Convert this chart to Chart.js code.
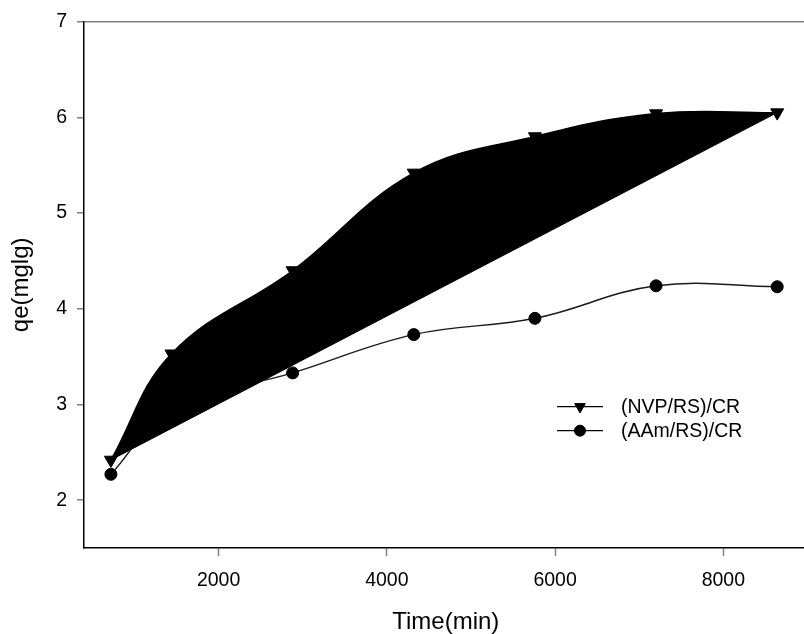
<!DOCTYPE html>
<html>
<head>
<meta charset="utf-8">
<script src="https://cdn.jsdelivr.net/npm/chart.js@4.4.1/dist/chart.umd.min.js"></script>
<style>
  html, body { margin: 0; padding: 0; overflow: hidden; background: #fff; }
  #wrap { position: relative; width: 816px; height: 634px; }
</style>
</head>
<body>
<div id="wrap"><canvas id="c"></canvas></div>
<script>
// Adsorption capacity over contact time for the two hydrogels
const timeMin = [720, 1440, 2880, 4320, 5760, 7200, 8640];
const nvpQe   = [2.42, 3.53, 4.40, 5.42, 5.80, 6.04, 6.05];
const aamQe   = [2.27, 2.95, 3.33, 3.73, 3.90, 4.24, 4.23];
const xTickValues = [2000, 4000, 6000, 8000];
const yTickValues = [2, 3, 4, 5, 6, 7];
const seriesNames = ['(NVP/RS)/CR', '(AAm/RS)/CR'];
const xTitle = 'Time(min)';
const yTitle = 'qe(mglg)';

const FONT = '"Liberation Sans", Arial, sans-serif';

const toPoints = (xs, ys) => xs.map((x, i) => ({ x: x, y: ys[i] }));
const nvpPoints = toPoints(timeMin, nvpQe);
const aamPoints = toPoints(timeMin, aamQe);
// straight chord between the first and last NVP readings; the NVP series is filled down to it
const chordPoints = [nvpPoints[0], nvpPoints[nvpPoints.length - 1]];

// legend drawn inside the plot area, line sample with marker
const insideLegend = {
  id: 'insideLegend',
  afterDraw(chart) {
    const { ctx, chartArea } = chart;
    const items = [
      { text: seriesNames[0], style: 'triangle', rotation: 180, radius: 6.2, dy: 385 },
      { text: seriesNames[1], style: 'circle', rotation: 0, radius: 5.5, dy: 409 }
    ];
    ctx.save();
    items.forEach(it => {
      const y = chartArea.top + it.dy;
      const x1 = chartArea.left + 473, x2 = chartArea.left + 519;
      ctx.strokeStyle = '#000';
      ctx.lineWidth = 1.3;
      ctx.beginPath();
      ctx.moveTo(x1, y);
      ctx.lineTo(x2, y);
      ctx.stroke();
      ctx.fillStyle = '#000';
      ctx.lineWidth = 1;
      Chart.helpers.drawPoint(ctx, { pointStyle: it.style, rotation: it.rotation, radius: it.radius, borderWidth: 1 }, (x1 + x2) / 2, y);
      ctx.font = '19.5px ' + FONT;
      ctx.textBaseline = 'middle';
      ctx.textAlign = 'left';
      ctx.fillStyle = '#000';
      ctx.fillText(it.text, chartArea.left + 537, y + 1);
    });
    ctx.restore();
  }
};

new Chart(document.getElementById('c'), {
  type: 'line',
  data: {
    datasets: [
      {
        label: seriesNames[0],
        data: nvpPoints,
        borderColor: '#000',
        borderWidth: 1.5,
        backgroundColor: '#000',
        fill: 2,
        tension: 0.4,
        pointStyle: 'triangle',
        rotation: 180,
        pointRadius: 7.5,
        pointBackgroundColor: '#000',
        pointBorderColor: '#000',
        pointBorderWidth: 1,
        order: 0
      },
      {
        label: seriesNames[1],
        data: aamPoints,
        borderColor: '#1a1a1a',
        borderWidth: 1.5,
        fill: false,
        tension: 0.4,
        pointStyle: 'circle',
        pointRadius: 6,
        pointBackgroundColor: '#000',
        pointBorderColor: '#000',
        pointBorderWidth: 1,
        order: 1
      },
      {
        label: 'chord',
        data: chordPoints,
        borderColor: '#000',
        borderWidth: 1,
        fill: false,
        tension: 0,
        pointRadius: 0,
        order: 2
      }
    ]
  },
  options: {
    responsive: true,
    maintainAspectRatio: false,
    animation: false,
    devicePixelRatio: 1,
    layout: { padding: { top: 20, right: 1, left: 0, bottom: 0 } },
    plugins: {
      legend: { display: false },
      tooltip: { enabled: false }
    },
    scales: {
      x: {
        type: 'linear',
        position: 'bottom',
        min: 400,
        max: 9000,
        afterBuildTicks: s => { s.ticks = xTickValues.map(v => ({ value: v })); },
        afterFit: s => { s.height = 86; },
        grid: {
          drawOnChartArea: false,
          drawTicks: true,
          tickLength: 8,
          tickColor: '#808080',
          tickWidth: 1.5
        },
        border: { display: true, color: '#000', width: 1.5 },
        ticks: {
          color: '#000',
          font: { family: FONT, size: 19.5 },
          padding: 13,
          maxRotation: 0,
          autoSkip: false,
          callback: v => String(v)
        },
        title: {
          display: true,
          text: xTitle,
          color: '#000',
          font: { family: FONT, size: 24, lineHeight: 1 },
          padding: { top: 0, bottom: 0 }
        }
      },
      y: {
        type: 'linear',
        min: 1.5,
        max: 7,
        afterBuildTicks: s => { s.ticks = yTickValues.map(v => ({ value: v })); },
        afterFit: s => { s.width = 84; },
        grid: {
          drawOnChartArea: true,
          color: c => (c.tick && c.tick.value === 7) ? '#808080' : 'rgba(0,0,0,0)',
          lineWidth: 1.5,
          drawTicks: true,
          tickLength: 7,
          tickColor: '#808080',
          tickWidth: 1.5
        },
        border: { display: true, color: '#000', width: 1.5 },
        ticks: {
          color: '#000',
          font: { family: FONT, size: 19.5 },
          padding: 10,
          callback: v => String(v)
        },
        title: {
          display: true,
          text: yTitle,
          color: '#000',
          font: { family: FONT, size: 24, lineHeight: 1 },
          padding: { top: 9, bottom: 0 }
        }
      }
    }
  },
  plugins: [insideLegend]
});
</script>
</body>
</html>
